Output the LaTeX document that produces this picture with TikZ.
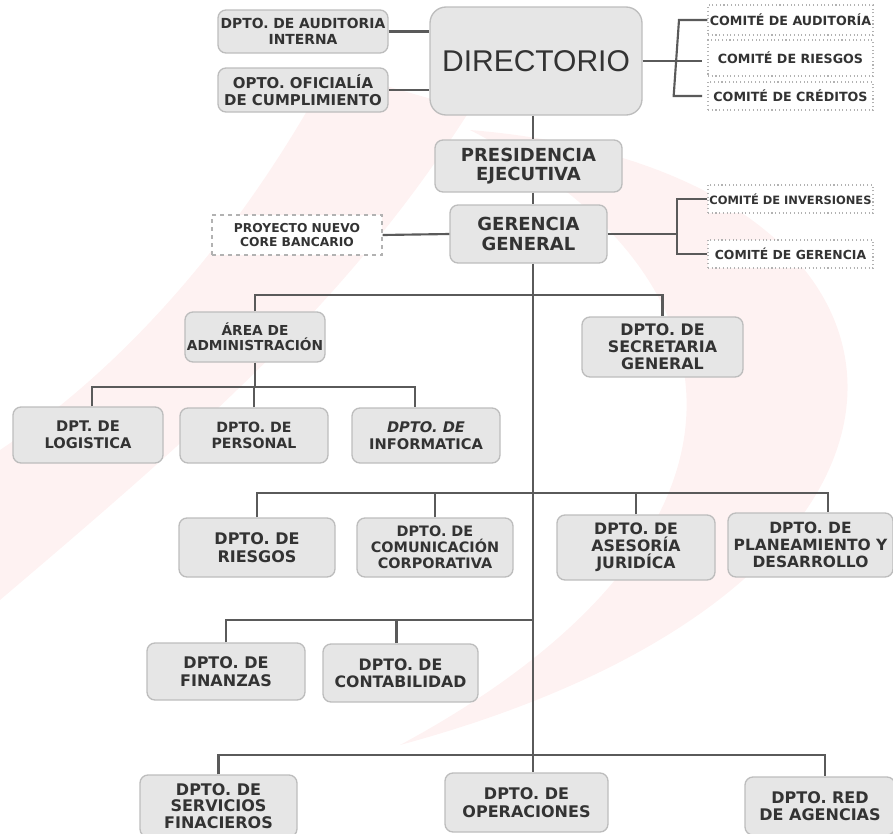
\documentclass[tikz,border=0pt]{standalone}
\usepackage{fontspec}
\setmainfont{DejaVu Sans}
\newfontfamily\arialf{Liberation Sans}
\usetikzlibrary{calc}
\definecolor{boxfill}{HTML}{E6E6E6}
\definecolor{boxline}{HTML}{BDBDBD}
\definecolor{txt}{HTML}{333333}
\definecolor{wline}{HTML}{5A5A5A}
\definecolor{wm}{HTML}{FEF2F2}
\tikzset{
  bx/.style 2 args={minimum width=#1*0.75pt, minimum height=#2*0.75pt},
  fs/.style 2 args={font=\bfseries\fontsize{#1}{#2}\selectfont},
  box/.style={draw=boxline, fill=boxfill, rounded corners=6pt, line width=1pt,
    align=center, inner sep=0pt, text=txt},
  dbox/.style={draw=black!30, dotted, line width=0.8pt, fill=white,
    align=center, inner sep=0pt, text=txt},
  ln/.style={draw=wline, line width=1.6pt}
}
\begin{document}
\begin{tikzpicture}[x=0.75pt, y=-0.75pt]
\useasboundingbox (0,0) rectangle (893,833);
% watermark
\fill[wm] (470,130) .. controls (960,170) and (1010,580) .. (400,745)
   .. controls (780,540) and (760,280) .. (470,130) -- cycle;
\fill[wm] (330,70) -- (470,110) .. controls (350,300) and (200,430) .. (0,600)
   -- (0,450) .. controls (150,350) and (260,200) .. (330,70) -- cycle;

% top level
\node[box, bx={212}{108}, rounded corners=12pt, font=\arialf\fontsize{22.5}{24}\selectfont] (dir) at (536,61)
  {DIRECTORIO};
\node[box, bx={170}{43}, fs={10.4}{11.5}] (aud) at (303,31.5)
  {DPTO. DE AUDITORIA\\INTERNA};
\node[box, bx={170}{44}, fs={11.2}{12.5}] (ofi) at (303,90)
  {OPTO. OFICIALÍA\\DE CUMPLIMIENTO};
\node[dbox, bx={165}{30}, fs={9.5}{10}] (c1) at (790.5,20) {COMITÉ DE AUDITORÍA};
\node[dbox, bx={165}{36}, fs={9.5}{10}] (c2) at (790.5,58) {COMITÉ DE RIESGOS};
\node[dbox, bx={165}{28}, fs={9.5}{10}] (c3) at (790.5,96) {COMITÉ DE CRÉDITOS};

\node[box, bx={187}{52}, fs={13.5}{14.5}] (pres) at (528.5,166)
  {PRESIDENCIA\\EJECUTIVA};
\node[box, bx={157}{58}, fs={13.5}{14.5}] (ger) at (528.5,234)
  {GERENCIA\\GENERAL};
\node[dbox, dashed, bx={170}{40}, fs={9.2}{10.5}] (proj) at (297,235)
  {PROYECTO NUEVO\\CORE BANCARIO};
\node[dbox, bx={165}{28}, fs={8.6}{10}] (ci) at (790.5,199) {COMITÉ DE INVERSIONES};
\node[dbox, bx={165}{28}, fs={9.3}{10}] (cg) at (790.5,254) {COMITÉ DE GERENCIA};

% second level
\node[box, bx={140}{50}, fs={10.3}{11.5}] (adm) at (255,337)
  {ÁREA DE\\ADMINISTRACIÓN};
\node[box, bx={161}{60}, fs={11.9}{12.6}] (sec) at (662.5,347)
  {DPTO. DE\\SECRETARIA\\GENERAL};
\node[box, bx={150}{56}, fs={11}{12.5}] (log) at (88,435)
  {DPT. DE\\LOGISTICA};
\node[box, bx={148}{55}, fs={10.6}{12.5}] (per) at (254,435.5)
  {DPTO. DE\\PERSONAL};
\node[box, bx={148}{55}, fs={11}{12.5}] (inf) at (426,435.5)
  {\itshape DPTO. DE\\INFORMATICA};

% third level
\node[box, bx={156}{59}, fs={12}{13}] (rie) at (257,547.5)
  {DPTO. DE\\RIESGOS};
\node[box, bx={156}{59}, fs={10.8}{12}] (com) at (435,547.5)
  {DPTO. DE\\COMUNICACIÓN\\CORPORATIVA};
\node[box, bx={158}{65}, fs={11.8}{12.6}] (ase) at (636,547.5)
  {DPTO. DE\\ASESORÍA\\JURIDÍCA};
\node[box, bx={165}{64}, fs={11.6}{12.6}] (pla) at (810.5,545)
  {DPTO. DE\\PLANEAMIENTO Y\\DESARROLLO};

% fourth level
\node[box, bx={158}{57}, fs={12}{13}] (fin) at (226,671.5)
  {DPTO. DE\\FINANZAS};
\node[box, bx={155}{58}, fs={11.8}{13}] (con) at (400.5,673)
  {DPTO. DE\\CONTABILIDAD};

% fifth level
\node[box, bx={157}{62}, fs={12}{12.6}] (ser) at (218.5,806)
  {DPTO. DE\\SERVICIOS\\FINACIEROS};
\node[box, bx={163}{59}, fs={12}{13}] (ope) at (526.5,802.5)
  {DPTO. DE\\OPERACIONES};
\node[box, bx={150}{58}, fs={12}{13}] (age) at (820,806)
  {DPTO. RED\\DE AGENCIAS};

% helper coordinates
\coordinate (tx) at (533,0);
\coordinate (cx) at (679,0);
\coordinate (gx) at (677,0);
\coordinate (h1) at (0,295);
\coordinate (h2) at (0,387);
\coordinate (h3) at (0,493);
\coordinate (h4) at (0,620);
\coordinate (h5) at (0,755);

% connectors
\draw[ln] (dir.south -| tx) -- (pres.north -| tx);
\draw[ln] (pres.south -| tx) -- (ger.north -| tx);
\draw[ln] (ger.south -| tx) -- (ope.north -| tx);
\draw[ln] (aud.east) -- (aud.east -| dir.west);
\draw[ln] (ofi.east) -- (ofi.east -| dir.west);
\draw[ln] (dir.east) -- ([xshift=-4pt]dir.east -| c2.west);
\draw[ln] (c1.west) -- (c1.west -| cx) -- ([xshift=-4pt]c3.west -| cx) -- ([xshift=-4pt]c3.west);
\draw[ln] (proj.east) -- (ger.west);
\draw[ln] (ger.east) -- (ger.east -| gx);
\draw[ln] (ci.west) -- (ci.west -| gx) -- (cg.west -| gx) -- (cg.west);

\draw[ln] (adm.north) -- (adm.north |- h1) -- (sec.north |- h1) -- (sec.north);
\draw[ln] (adm.south) -- (adm.south |- h2);
\draw[ln] ([xshift=3pt]log.north) -- ([xshift=3pt]log.north |- h2)
   -- ([xshift=-8pt]inf.north |- h2) -- ([xshift=-8pt]inf.north);
\draw[ln] (per.north) -- (per.north |- h2);

\draw[ln] (rie.north) -- (rie.north |- h3) -- ([xshift=13pt]pla.north |- h3) -- ([xshift=13pt]pla.north);
\draw[ln] (com.north) -- (com.north |- h3);
\draw[ln] (ase.north) -- (ase.north |- h3);

\draw[ln] (fin.north) -- (fin.north |- h4) -- (h4 -| tx);
\draw[ln] ([xshift=-3pt]con.north) -- ([xshift=-3pt]con.north |- h4);

\draw[ln] (ser.north) -- (ser.north |- h5) -- ([xshift=4pt]age.north |- h5) -- ([xshift=4pt]age.north);
\end{tikzpicture}
\end{document}
